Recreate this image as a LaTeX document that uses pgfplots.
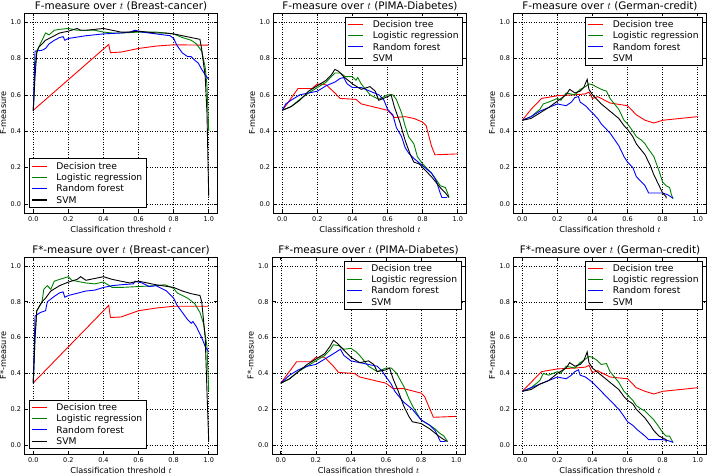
\documentclass[border=0pt]{standalone}
\usepackage{fontspec}
\setmainfont{DejaVu Sans}
\usepackage{pgfplots}
\pgfplotsset{compat=1.18}
\definecolor{mgreen}{rgb}{0,0.5,0}
\pgfplotsset{
  panel/.style={
    scale only axis, width=193pt,
    xmin=-0.05, xmax=1.05, ymin=-0.05, ymax=1.05,
    xtick={0,0.2,...,1.0}, ytick={0,0.2,...,1.0},
    /pgf/number format/assume math mode=true,
    xticklabel style={/pgf/number format/.cd, fixed, fixed zerofill, precision=1},
    yticklabel style={/pgf/number format/.cd, fixed, fixed zerofill, precision=1},
    ticklabel style={font=\fontsize{6.5}{7}\selectfont},
    label style={font=\fontsize{8.2}{9}\selectfont},
    xlabel style={yshift=2pt},
    ylabel style={yshift=-2.5pt},
    title style={font=\fontsize{10.4}{12}\selectfont, yshift=-7pt},
    xlabel={Classification threshold $t$},
    grid=major, major grid style={black, dash pattern=on 1pt off 1.5pt, line width=0.5pt},
    axis line style={line width=0.8pt},
    tick style={black, line width=0.6pt}, major tick length=3.5pt,
    every axis plot/.append style={line width=0.9pt},
    legend cell align=left,
    legend image post style={xscale=0.88, line width=1.1pt},
    legend style={font=\fontsize{9.2}{11}\selectfont\strut, draw=black, line width=0.7pt,
      inner xsep=2pt, inner ysep=1pt, row sep=-2pt,
      /tikz/every odd column/.append style={column sep=7pt}},
  },
  top/.style={height=200pt},
  bot/.style={height=197pt},
  ur/.style={legend style={at={(0.982,0.982)}, anchor=north east}},
  ll/.style={legend style={at={(0.023,0.025)}, anchor=south west}},
}
\begin{document}
\begin{tikzpicture}
\path[use as bounding box] (0pt,0pt) rectangle (709pt,474pt);
% Panel 1
\begin{axis}[panel, top, ll, at={(24.5pt,261pt)}, anchor=south west,
  title={F-measure over $t$ (Breast-cancer)}, ylabel={F-measure}]
\addplot[red] coordinates {(0,0.515) (0.43,0.877) (0.44,0.832) (0.5,0.835) (0.6,0.855) (0.7,0.868) (0.8,0.875) (0.9,0.874) (1.0,0.873)};
\addplot[mgreen] coordinates {(0,0.51) (0.01,0.75) (0.02,0.84) (0.04,0.88) (0.06,0.92) (0.07,0.94) (0.09,0.93) (0.12,0.955) (0.15,0.96) (0.2,0.965) (0.25,0.955) (0.3,0.955) (0.35,0.955) (0.4,0.945) (0.45,0.94) (0.5,0.94) (0.6,0.945) (0.7,0.945) (0.8,0.935) (0.85,0.915) (0.9,0.9) (0.93,0.88) (0.96,0.84) (0.98,0.75) (0.99,0.65) (1.0,0.4)};
\addplot[blue] coordinates {(0,0.51) (0.01,0.84) (0.05,0.845) (0.07,0.855) (0.09,0.88) (0.12,0.9) (0.15,0.915) (0.17,0.92) (0.18,0.9) (0.2,0.91) (0.3,0.925) (0.4,0.935) (0.5,0.94) (0.55,0.945) (0.58,0.955) (0.62,0.945) (0.7,0.935) (0.78,0.925) (0.8,0.91) (0.82,0.87) (0.85,0.83) (0.88,0.81) (0.9,0.81) (0.92,0.79) (0.94,0.775) (0.96,0.74) (0.98,0.71) (1.0,0.685)};
\addplot[black] coordinates {(0,0.51) (0.01,0.7) (0.02,0.83) (0.03,0.86) (0.05,0.88) (0.07,0.9) (0.1,0.915) (0.15,0.94) (0.2,0.95) (0.25,0.965) (0.27,0.955) (0.3,0.955) (0.35,0.96) (0.4,0.965) (0.45,0.955) (0.5,0.945) (0.55,0.945) (0.6,0.95) (0.65,0.945) (0.7,0.94) (0.75,0.94) (0.8,0.935) (0.85,0.925) (0.9,0.915) (0.95,0.905) (0.96,0.85) (0.98,0.7) (0.99,0.5) (1.0,0.04)};
\legend{Decision tree, Logistic regression, Random forest, SVM}
\end{axis}
% Panel 2
\begin{axis}[panel, top, ur, at={(273.5pt,261pt)}, anchor=south west,
  title={F-measure over $t$ (PIMA-Diabetes)}, ylabel={F-measure}]
\addplot[red] coordinates {(0,0.515) (0.02,0.54) (0.09,0.635) (0.17,0.635) (0.2,0.66) (0.25,0.655) (0.3,0.61) (0.33,0.58) (0.42,0.575) (0.45,0.55) (0.6,0.515) (0.64,0.475) (0.7,0.48) (0.75,0.47) (0.8,0.45) (0.82,0.43) (0.85,0.32) (0.87,0.27) (1.0,0.275)};
\addplot[mgreen] coordinates {(0,0.515) (0.05,0.535) (0.1,0.575) (0.15,0.61) (0.2,0.64) (0.25,0.67) (0.28,0.7) (0.3,0.72) (0.33,0.72) (0.36,0.7) (0.4,0.7) (0.42,0.68) (0.43,0.695) (0.45,0.66) (0.5,0.6) (0.55,0.575) (0.6,0.6) (0.63,0.6) (0.65,0.575) (0.68,0.5) (0.7,0.43) (0.72,0.37) (0.75,0.33) (0.77,0.26) (0.8,0.22) (0.85,0.17) (0.88,0.13) (0.9,0.1) (0.93,0.09) (0.95,0.04)};
\addplot[blue] coordinates {(0,0.515) (0.02,0.55) (0.05,0.57) (0.1,0.6) (0.15,0.61) (0.2,0.62) (0.25,0.65) (0.3,0.67) (0.33,0.69) (0.35,0.695) (0.37,0.66) (0.4,0.64) (0.45,0.64) (0.5,0.62) (0.55,0.6) (0.58,0.57) (0.6,0.52) (0.63,0.49) (0.65,0.42) (0.68,0.37) (0.7,0.31) (0.72,0.28) (0.75,0.25) (0.8,0.21) (0.85,0.17) (0.87,0.14) (0.88,0.12) (0.9,0.06) (0.91,0.035) (0.94,0.035)};
\addplot[black] coordinates {(0,0.515) (0.05,0.535) (0.1,0.57) (0.15,0.62) (0.2,0.65) (0.25,0.68) (0.28,0.71) (0.3,0.74) (0.32,0.73) (0.35,0.7) (0.4,0.66) (0.45,0.63) (0.5,0.645) (0.53,0.62) (0.55,0.57) (0.6,0.59) (0.62,0.6) (0.64,0.53) (0.67,0.45) (0.7,0.35) (0.73,0.27) (0.75,0.23) (0.78,0.22) (0.82,0.18) (0.85,0.15) (0.9,0.09) (0.93,0.06) (0.95,0.035)};
\legend{Decision tree, Logistic regression, Random forest, SVM}
\end{axis}
% Panel 3
\begin{axis}[panel, top, ur, at={(513.5pt,261pt)}, anchor=south west,
  title={F-measure over $t$ (German-credit)}, ylabel={F-measure}]
\addplot[red] coordinates {(0,0.46) (0.05,0.52) (0.11,0.58) (0.2,0.595) (0.3,0.6) (0.36,0.605) (0.38,0.615) (0.4,0.58) (0.43,0.59) (0.5,0.555) (0.6,0.54) (0.65,0.49) (0.7,0.46) (0.75,0.445) (0.8,0.46) (0.9,0.47) (1.0,0.48)};
\addplot[mgreen] coordinates {(0,0.46) (0.05,0.48) (0.1,0.52) (0.12,0.55) (0.15,0.56) (0.2,0.58) (0.22,0.57) (0.25,0.61) (0.3,0.6) (0.33,0.63) (0.36,0.645) (0.38,0.66) (0.4,0.655) (0.43,0.64) (0.45,0.63) (0.48,0.62) (0.5,0.58) (0.55,0.52) (0.58,0.46) (0.6,0.44) (0.63,0.4) (0.65,0.37) (0.68,0.35) (0.7,0.33) (0.72,0.3) (0.75,0.26) (0.78,0.18) (0.8,0.12) (0.82,0.1) (0.84,0.09) (0.85,0.05) (0.86,0.03)};
\addplot[blue] coordinates {(0,0.46) (0.05,0.48) (0.1,0.51) (0.15,0.53) (0.2,0.55) (0.25,0.54) (0.28,0.56) (0.3,0.585) (0.32,0.59) (0.33,0.56) (0.36,0.54) (0.4,0.5) (0.43,0.47) (0.45,0.44) (0.5,0.39) (0.55,0.32) (0.58,0.26) (0.6,0.23) (0.63,0.2) (0.65,0.15) (0.7,0.1) (0.72,0.06) (0.8,0.06) (0.83,0.05) (0.86,0.03)};
\addplot[black] coordinates {(0,0.46) (0.05,0.47) (0.1,0.5) (0.15,0.53) (0.2,0.565) (0.25,0.6) (0.27,0.63) (0.3,0.61) (0.33,0.62) (0.35,0.64) (0.37,0.685) (0.38,0.63) (0.4,0.6) (0.45,0.55) (0.5,0.51) (0.55,0.47) (0.58,0.43) (0.6,0.41) (0.63,0.37) (0.65,0.33) (0.7,0.27) (0.73,0.21) (0.75,0.16) (0.78,0.1) (0.8,0.06) (0.82,0.04) (0.82,0.03)};
\legend{Decision tree, Logistic regression, Random forest, SVM}
\end{axis}
% Panel 4
\begin{axis}[panel, bot, ll, at={(24.5pt,20pt)}, anchor=south west,
  title={F*-measure over $t$ (Breast-cancer)}, ylabel={F*-measure}]
\addplot[red] coordinates {(0,0.347) (0.43,0.78) (0.44,0.712) (0.5,0.715) (0.6,0.75) (0.7,0.765) (0.8,0.775) (0.9,0.775) (1.0,0.775)};
\addplot[mgreen] coordinates {(0,0.345) (0.01,0.6) (0.02,0.75) (0.05,0.8) (0.06,0.87) (0.08,0.89) (0.1,0.87) (0.12,0.915) (0.15,0.925) (0.2,0.94) (0.22,0.92) (0.3,0.905) (0.35,0.9) (0.4,0.91) (0.45,0.88) (0.5,0.88) (0.6,0.885) (0.7,0.89) (0.75,0.895) (0.8,0.875) (0.82,0.85) (0.88,0.82) (0.92,0.79) (0.95,0.74) (0.97,0.68) (0.99,0.55) (1.0,0.3)};
\addplot[blue] coordinates {(0,0.345) (0.01,0.72) (0.04,0.74) (0.07,0.75) (0.08,0.8) (0.12,0.83) (0.15,0.85) (0.17,0.855) (0.18,0.825) (0.2,0.835) (0.3,0.86) (0.35,0.865) (0.4,0.88) (0.45,0.89) (0.5,0.895) (0.57,0.9) (0.58,0.915) (0.62,0.905) (0.66,0.885) (0.7,0.89) (0.76,0.86) (0.8,0.82) (0.82,0.78) (0.85,0.74) (0.88,0.7) (0.9,0.68) (0.91,0.69) (0.93,0.66) (0.96,0.6) (0.98,0.55) (1.0,0.52)};
\addplot[black] coordinates {(0,0.345) (0.01,0.6) (0.02,0.75) (0.05,0.8) (0.07,0.82) (0.1,0.86) (0.15,0.89) (0.2,0.91) (0.25,0.925) (0.27,0.94) (0.3,0.92) (0.35,0.93) (0.4,0.94) (0.45,0.925) (0.5,0.915) (0.55,0.905) (0.6,0.915) (0.65,0.905) (0.7,0.895) (0.8,0.88) (0.85,0.86) (0.9,0.845) (0.95,0.835) (0.96,0.8) (0.98,0.6) (0.99,0.3) (1.0,0.02)};
\legend{Decision tree, Logistic regression, Random forest, SVM}
\end{axis}
% Panel 5
\begin{axis}[panel, bot, ur, at={(272pt,20pt)}, anchor=south west,
  title={F*-measure over $t$ (PIMA-Diabetes)}, ylabel={F*-measure}]
\addplot[red] coordinates {(0,0.345) (0.09,0.465) (0.17,0.465) (0.2,0.49) (0.25,0.49) (0.3,0.44) (0.33,0.405) (0.42,0.4) (0.45,0.38) (0.6,0.345) (0.64,0.315) (0.7,0.315) (0.8,0.29) (0.82,0.27) (0.85,0.2) (0.87,0.155) (1.0,0.16)};
\addplot[mgreen] coordinates {(0,0.345) (0.05,0.37) (0.1,0.41) (0.15,0.44) (0.2,0.47) (0.25,0.5) (0.28,0.53) (0.3,0.56) (0.33,0.555) (0.36,0.535) (0.4,0.54) (0.43,0.52) (0.45,0.5) (0.5,0.44) (0.55,0.41) (0.6,0.43) (0.63,0.43) (0.66,0.4) (0.7,0.33) (0.73,0.26) (0.75,0.22) (0.78,0.17) (0.8,0.14) (0.85,0.11) (0.88,0.09) (0.9,0.07) (0.93,0.05) (0.95,0.02)};
\addplot[blue] coordinates {(0,0.345) (0.05,0.39) (0.1,0.42) (0.15,0.44) (0.2,0.45) (0.25,0.48) (0.3,0.51) (0.34,0.535) (0.36,0.5) (0.4,0.47) (0.45,0.46) (0.5,0.45) (0.55,0.44) (0.58,0.41) (0.6,0.38) (0.63,0.34) (0.65,0.3) (0.7,0.24) (0.75,0.2) (0.8,0.14) (0.85,0.11) (0.88,0.08) (0.9,0.04) (0.91,0.02) (0.94,0.02)};
\addplot[black] coordinates {(0,0.345) (0.05,0.37) (0.1,0.41) (0.15,0.45) (0.2,0.48) (0.25,0.51) (0.28,0.55) (0.3,0.585) (0.32,0.57) (0.35,0.54) (0.4,0.49) (0.45,0.46) (0.5,0.47) (0.53,0.45) (0.55,0.41) (0.6,0.42) (0.62,0.43) (0.64,0.37) (0.67,0.3) (0.7,0.22) (0.73,0.16) (0.75,0.13) (0.8,0.12) (0.85,0.09) (0.9,0.05) (0.93,0.03) (0.95,0.02)};
\legend{Decision tree, Logistic regression, Random forest, SVM}
\end{axis}
% Panel 6
\begin{axis}[panel, bot, ur, at={(513.5pt,20pt)}, anchor=south west,
  title={F*-measure over $t$ (German-credit)}, ylabel={F*-measure}]
\addplot[red] coordinates {(0,0.3) (0.05,0.35) (0.11,0.41) (0.2,0.425) (0.3,0.43) (0.36,0.435) (0.38,0.445) (0.4,0.405) (0.43,0.415) (0.5,0.38) (0.6,0.37) (0.65,0.32) (0.7,0.3) (0.75,0.285) (0.8,0.3) (0.9,0.31) (1.0,0.32)};
\addplot[mgreen] coordinates {(0,0.3) (0.05,0.32) (0.1,0.36) (0.12,0.4) (0.15,0.39) (0.2,0.41) (0.22,0.4) (0.25,0.44) (0.3,0.43) (0.33,0.46) (0.36,0.48) (0.38,0.495) (0.4,0.49) (0.43,0.47) (0.45,0.45) (0.48,0.455) (0.5,0.41) (0.55,0.35) (0.58,0.3) (0.6,0.28) (0.63,0.25) (0.65,0.22) (0.68,0.2) (0.7,0.19) (0.72,0.17) (0.75,0.14) (0.78,0.1) (0.8,0.07) (0.82,0.05) (0.84,0.05) (0.85,0.03) (0.86,0.015)};
\addplot[blue] coordinates {(0,0.3) (0.05,0.32) (0.1,0.34) (0.15,0.36) (0.2,0.38) (0.25,0.37) (0.28,0.39) (0.3,0.41) (0.32,0.42) (0.33,0.39) (0.36,0.38) (0.4,0.35) (0.43,0.32) (0.45,0.3) (0.5,0.25) (0.55,0.2) (0.58,0.16) (0.6,0.13) (0.63,0.11) (0.65,0.09) (0.7,0.05) (0.72,0.03) (0.8,0.03) (0.83,0.025) (0.86,0.015)};
\addplot[black] coordinates {(0,0.3) (0.05,0.31) (0.1,0.34) (0.15,0.36) (0.2,0.4) (0.25,0.43) (0.27,0.46) (0.3,0.44) (0.33,0.45) (0.35,0.47) (0.37,0.52) (0.38,0.46) (0.4,0.43) (0.45,0.39) (0.5,0.35) (0.55,0.31) (0.58,0.27) (0.6,0.25) (0.63,0.23) (0.65,0.2) (0.7,0.15) (0.73,0.11) (0.75,0.08) (0.78,0.05) (0.8,0.04) (0.82,0.03) (0.82,0.015)};
\legend{Decision tree, Logistic regression, Random forest, SVM}
\end{axis}
\end{tikzpicture}
\end{document}
